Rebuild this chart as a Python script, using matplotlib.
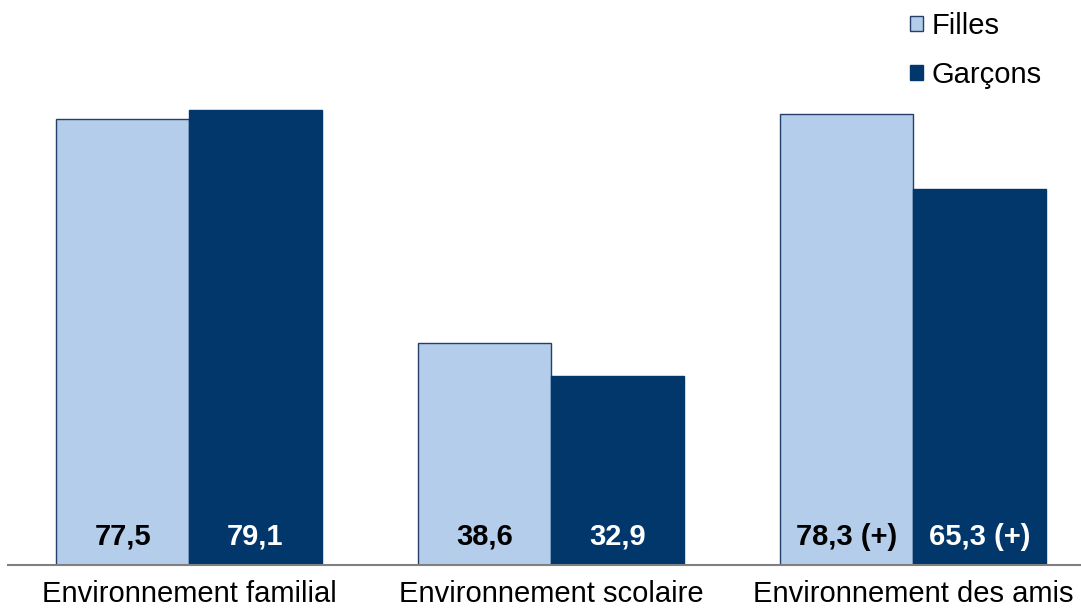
import numpy as np
import matplotlib.pyplot as plt

categories = ["Environnement familial", "Environnement scolaire", "Environnement des amis"]
filles = [77.5, 38.6, 78.3]
garcons = [79.1, 32.9, 65.3]
labels_filles = ["77,5", "38,6", "78,3 (+)"]
labels_garcons = ["79,1", "32,9", "65,3 (+)"]

plt.rcParams['font.family'] = ['Liberation Sans', 'DejaVu Sans']

fig = plt.figure(figsize=(10.81, 6.11), dpi=100)
ax = fig.add_axes([8 / 1081, 46 / 611, 1 - 8 / 1081, 565 / 611])

x = np.arange(len(categories))
w = 0.367
light = '#B3CDEA'
dark = '#02376B'

b1 = ax.bar(x - w / 2, filles, w, color=light, edgecolor='#24406A', linewidth=1, label='Filles')
b2 = ax.bar(x + w / 2, garcons, w, color=dark, edgecolor=dark, linewidth=1, label='Garçons')

for i in range(len(categories)):
    ax.text(x[i] - w / 2, 4.9, labels_filles[i], ha='center', va='center',
            fontsize=21, fontweight='bold', color='black')
    ax.text(x[i] + w / 2, 4.9, labels_garcons[i], ha='center', va='center',
            fontsize=21, fontweight='bold', color='white')

ax.set_xlim(-0.5, 2.464)
ax.set_ylim(0, 98.2)
ax.set_xticks(x)
ax.set_xticklabels(categories, fontsize=21)
ax.tick_params(axis='x', length=0, pad=11)
ax.set_yticks([])
for s in ['top', 'right', 'left']:
    ax.spines[s].set_visible(False)
ax.spines['bottom'].set_color('#808080')
ax.spines['bottom'].set_linewidth(1.5)

fig.legend(handles=[b1, b2], loc='upper left', bbox_to_anchor=(910 / 1081, 1 - 12 / 611),
           frameon=False, fontsize=21, handlelength=0.45, handleheight=0.45,
           handletextpad=0.3, labelspacing=0.72, borderpad=0, borderaxespad=0)

fig.savefig('out.png', dpi=100)
